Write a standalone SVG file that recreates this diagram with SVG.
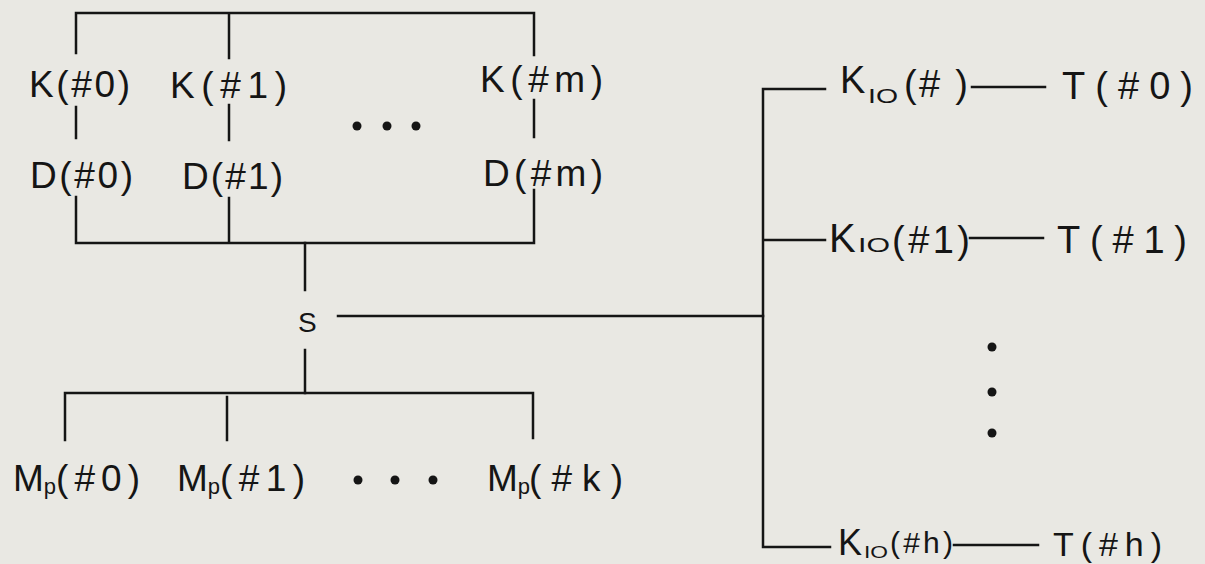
<svg xmlns="http://www.w3.org/2000/svg" width="1205" height="564" viewBox="0 0 1205 564">
<style>
.t{font-family:"Liberation Sans",Arial,sans-serif;font-size:37px;fill:#151515}
.sub{font-size:20px}
.ln{stroke:#151515;stroke-width:2.5;fill:none;stroke-linecap:square}
.dot{fill:#151515}
</style>
<rect width="1205" height="564" fill="#e9e8e3"/>
<g id="connectors" class="ln">
<path d="M76,13 H532 M76,13 V53 M229,13 V58 M534,13 V55"/>
<path d="M76,107 V138 M229,105 V140 M534,100 V137"/>
<path d="M76,197 V243 M229,198 V243 M534,190 V242 M76,243 H534"/>
<path d="M305,243 V290 M305,350 V393"/>
<path d="M65,393 H533 M65,393 V440 M227,397 V440 M533,393 V438"/>
<path d="M338,316 H763"/>
<path d="M763,89 V547 M763,89 H825 M763,240 H825 M763,547 H830"/>
<path d="M972,87 H1045 M970,238 H1043 M954,545 H1038"/>
</g>
<g id="K0"><text class="t" x="29" y="97" textLength="101" lengthAdjust="spacing">K(#0)</text></g>
<g id="K1"><text class="t" x="170" y="98" textLength="117" lengthAdjust="spacing">K(#1)</text></g>
<g id="Km"><text class="t" x="480" y="92" textLength="123" lengthAdjust="spacing">K(#m)</text></g>
<g id="D0"><text class="t" x="30" y="188" textLength="103" lengthAdjust="spacing">D(#0)</text></g>
<g id="D1"><text class="t" x="182" y="189" textLength="101" lengthAdjust="spacing">D(#1)</text></g>
<g id="Dm"><text class="t" x="483" y="186" textLength="120" lengthAdjust="spacing">D(#m)</text></g>
<g id="dots-top" class="dot"><circle cx="357" cy="126" r="4.5"/><circle cx="387" cy="126" r="4.5"/><circle cx="416" cy="126" r="4.5"/></g>
<g id="S"><text class="t" x="298" y="332" style="font-size:28px">S</text></g>
<g id="Mp0"><text class="t" x="13" y="491">M<tspan class="sub" dy="3" style="font-size:22px">p</tspan><tspan dy="-3" x="56" textLength="84" lengthAdjust="spacing">(#0)</tspan></text></g>
<g id="Mp1"><text class="t" x="177" y="491">M<tspan class="sub" dy="3" style="font-size:22px">p</tspan><tspan dy="-3" x="220" textLength="85" lengthAdjust="spacing">(#1)</tspan></text></g>
<g id="Mpk"><text class="t" x="487" y="491">M<tspan class="sub" dy="3" style="font-size:22px">p</tspan><tspan dy="-3" x="529" textLength="94" lengthAdjust="spacing">(#k)</tspan></text></g>
<g id="dots-bottom" class="dot"><circle cx="358" cy="480" r="4.5"/><circle cx="395" cy="480" r="4.5"/><circle cx="433" cy="480" r="4.5"/></g>
<g id="KIO0"><text class="t" x="840" y="93" style="font-size:38px">K<tspan class="sub" x="868" y="103" textLength="30" lengthAdjust="spacingAndGlyphs">IO</tspan><tspan x="904" y="97" textLength="64" lengthAdjust="spacing">(# )</tspan></text></g>
<g id="T0"><text class="t" x="1062" y="99" style="font-size:38px" textLength="131" lengthAdjust="spacing">T(#0)</text></g>
<g id="KIO1"><text class="t" x="829" y="252" style="font-size:40px">K<tspan class="sub" x="858" y="252" textLength="32" lengthAdjust="spacingAndGlyphs">IO</tspan><tspan x="892" y="253" style="font-size:38px" textLength="78" lengthAdjust="spacing">(#1)</tspan></text></g>
<g id="T1"><text class="t" x="1057" y="253" style="font-size:38px" textLength="130" lengthAdjust="spacing">T(#1)</text></g>
<g id="dots-right" class="dot"><circle cx="992" cy="347" r="4.5"/><circle cx="992" cy="392" r="4.5"/><circle cx="992" cy="433" r="4.5"/></g>
<g id="KIOh"><text class="t" x="838" y="555" style="font-size:36px">K<tspan class="sub" x="864" y="558" style="font-size:16px" textLength="24" lengthAdjust="spacingAndGlyphs">IO</tspan><tspan x="890" y="553" style="font-size:30px" textLength="63" lengthAdjust="spacing">(#h)</tspan></text></g>
<g id="Th"><text class="t" x="1053" y="556" style="font-size:34px" textLength="109" lengthAdjust="spacing">T(#h)</text></g>
</svg>
